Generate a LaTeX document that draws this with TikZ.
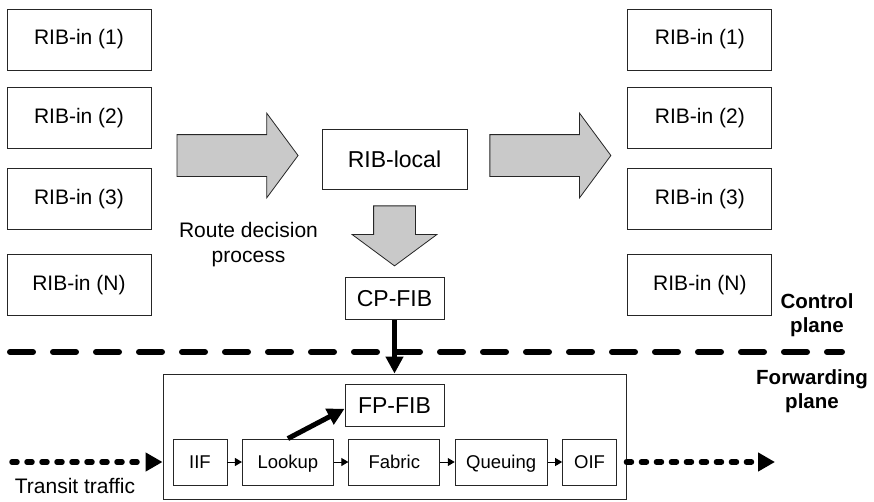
\documentclass[tikz,border=0pt]{standalone}
\usepackage{fontspec}
\setmainfont{Liberation Sans}
\usepackage{xcolor}
\usepackage{tikz}
\usetikzlibrary{arrows.meta,positioning,shapes.arrows}

\begin{document}
\begin{tikzpicture}[
  x=1pt, y=1pt,
  ribbox/.style={draw=black!85, line width=0.9pt, minimum width=144pt, minimum height=61pt, inner sep=0pt, font=\fontsize{21}{25}\selectfont},
  fibbox/.style={draw=black!85, line width=0.9pt, minimum width=99pt, minimum height=42pt, inner sep=0pt, font=\fontsize{23}{27}\selectfont},
  rowbox/.style={draw=black!85, line width=0.9pt, minimum height=46pt, inner sep=0pt, text height=13pt, text depth=0pt, font=\fontsize{18.5}{22}\selectfont},
  bigarr/.style={single arrow, draw=black!85, fill=gray!42, line width=0.8pt, minimum height=121pt, single arrow head extend=21.5pt, single arrow tip angle=107, inner xsep=0pt, inner ysep=20.5pt},
  lab/.style={font=\fontsize{21}{25}\selectfont, align=center},
  planelab/.style={font=\fontsize{20.5}{24}\selectfont\bfseries, align=center},
  divider/.style={line width=6pt, line cap=round, dash pattern=on 23pt off 20pt},
  dotarr/.style={line width=5.5pt, line cap=round, dash pattern=on 5pt off 10pt, -{Triangle[length=17pt,width=18pt]}},
  thickarr/.style={line width=5pt, -{Triangle[length=17pt,width=17pt]}},
  smallarr/.style={line width=1pt, -{Triangle[length=7pt,width=8pt]}}
]
\useasboundingbox (0,0) rectangle (874,-501);
% RIB-in tables, inbound side
\node[ribbox] (inl1) at (79,-39.5) {RIB-in (1)};
\node[ribbox, below=17pt of inl1] (inl2) {RIB-in (2)};
\node[ribbox, below=19pt of inl2] (inl3) {RIB-in (3)};
\node[ribbox, below=24pt of inl3] (inlN) {RIB-in (N)};
% RIB tables, outbound side
\node[ribbox, right=476pt of inl1] (outr1) {RIB-in (1)};
\node[ribbox, right=476pt of inl2] (outr2) {RIB-in (2)};
\node[ribbox, right=476pt of inl3] (outr3) {RIB-in (3)};
\node[ribbox, right=476pt of inlN] (outrN) {RIB-in (N)};
% decision and local RIB
\node[ribbox, minimum width=145pt, minimum height=60pt, font=\fontsize{23}{27}\selectfont] (riblocal) at (394.5,-159) {RIB-local};
\node[bigarr, left=23pt of riblocal, yshift=3.5pt] (decarr) {};
\node[bigarr, right=22pt of riblocal, yshift=3.5pt] (advarr) {};
\node[bigarr, minimum height=60pt, rotate=-90, below=16pt of riblocal, anchor=west] (fibarr) {};
\node[fibbox, below=88pt of riblocal] (cpfib) {CP-FIB};
\node[lab] (rdp) at (248.5,-245) {Route decision\\process};
% plane separation
\draw[divider] (10,-352) -- (842,-352);
\node[planelab] (ctrl) at (817,-315) {Control\\plane};
\node[planelab] (fwd) at (812,-391) {Forwarding\\plane};
% forwarding plane
\node[draw=black!85, line width=0.9pt, minimum width=463pt, minimum height=125pt] (fplane) at (394.5,-436.5) {};
\node[fibbox, below=64pt of cpfib] (fpfib) {FP-FIB};
\node[rowbox, minimum width=54pt] (iif) at (200,-462) {IIF};
\node[rowbox, minimum width=91pt, right=14.5pt of iif] (lookup) {Lookup};
\node[rowbox, minimum width=91pt, right=14.5pt of lookup] (fabric) {Fabric};
\node[rowbox, minimum width=92pt, right=14.5pt of fabric] (queuing) {Queuing};
\node[rowbox, minimum width=54pt, right=14.5pt of queuing] (oif) {OIF};
\draw[smallarr] (iif) -- (lookup);
\draw[smallarr] (lookup) -- (fabric);
\draw[smallarr] (fabric) -- (queuing);
\draw[smallarr] (queuing) -- (oif);
\draw[thickarr, line width=4.5pt] (cpfib.south) -- (cpfib.south |- fplane.north);
\draw[thickarr] (lookup.north) -- ([yshift=-3pt]fpfib.west);
% transit traffic
\coordinate (transit) at (12,-462);
\coordinate (exit) at (775,-462);
\draw[dotarr] (transit) -- (transit -| fplane.west);
\draw[dotarr] (oif.east -| fplane.east) -- (exit);
\node[lab, anchor=base] (tlab) at (75,-493) {Transit traffic};
\end{tikzpicture}
\end{document}
